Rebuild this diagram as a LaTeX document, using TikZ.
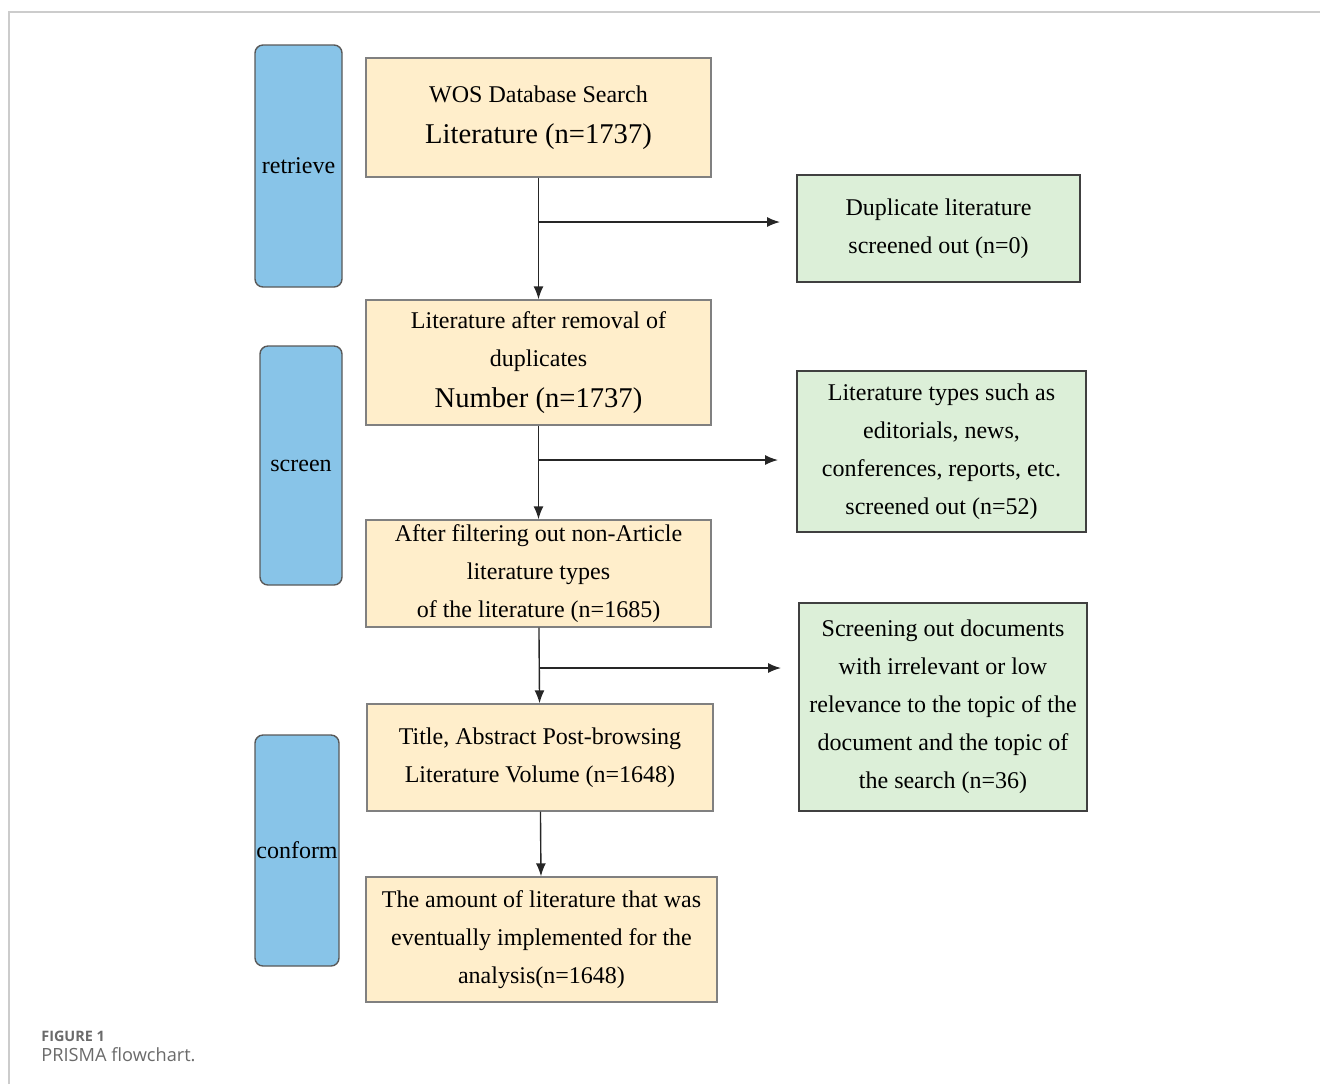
\documentclass[tikz,border=0pt]{standalone}
\usepackage{fontspec}
\setmainfont{Liberation Serif}
\newfontfamily\capfont{Open Sans}
\usetikzlibrary{arrows.meta}
\definecolor{stagefill}{HTML}{88C4E8}
\definecolor{stepfill}{HTML}{FFEECB}
\definecolor{outfill}{HTML}{DCEFD8}
\definecolor{capgray}{HTML}{6A6A6A}
\begin{document}
\begin{tikzpicture}[x=0.5pt,y=-0.5pt,>={Latex[length=6.5pt,width=5pt]},
    stage/.style={draw=black!65,fill=stagefill,rounded corners=4pt,line width=0.7pt,inner sep=0pt},
    stepbox/.style={draw=black!50,fill=stepfill,line width=0.7pt,align=center,inner sep=0pt},
    outbox/.style={draw=black!75,fill=outfill,line width=0.7pt,align=center,inner sep=0pt},
    every node/.append style={font=\fontsize{12}{19}\selectfont}]
\useasboundingbox (0,0) rectangle (1320,1084);
% frame of the figure
\draw[black!20,line width=0.6pt](9,1084)--(9,12)--(1320,12);
% stages
\node[stage,minimum width=43.5pt,minimum height=121pt](retr) at (298.5,166){retrieve};
\node[stage,minimum width=41pt,minimum height=119.5pt](scr) at (301,465.5){screen};
\node[stage,minimum width=42pt,minimum height=115.5pt](conf) at (297,850.5){conform};
% main steps
\node[stepbox,minimum width=172.5pt,minimum height=59.5pt](wos) at (538.5,117.5)
    {WOS Database Search\\[1.5pt]{\fontsize{14.3}{19}\selectfont Literature (n=1737)}};
\node[stepbox,minimum width=172.5pt,minimum height=62.5pt](dedup) at (538.5,362.5)
    {Literature after removal of\\duplicates\\[1.5pt]{\fontsize{14.3}{19}\selectfont Number (n=1737)}};
\node[stepbox,minimum width=172.5pt,minimum height=53.5pt](filt) at (538.5,573.5)
    {After filtering out non-Article\\literature types\\of the literature (n=1685)};
\node[stepbox,minimum width=173pt,minimum height=53.5pt](browse) at (540,757.5)
    {Title, Abstract Post-browsing\\Literature Volume (n=1648)};
\node[stepbox,minimum width=175.5pt,minimum height=62.5pt](final) at (541.5,939.5)
    {The amount of literature that was\\eventually implemented for the\\analysis(n=1648)};
% excluded
\node[outbox,minimum width=141.5pt,minimum height=53.5pt](dup) at (938.5,228.5)
    {Duplicate literature\\screened out (n=0)};
\node[outbox,minimum width=144.5pt,minimum height=80.5pt](types) at (941.5,451.5)
    {Literature types such as\\editorials, news,\\conferences, reports, etc.\\screened out (n=52)};
\node[outbox,minimum width=144pt,minimum height=104pt](irrel) at (943,707)
    {Screening out documents\\with irrelevant or low\\relevance to the topic of the\\document and the topic of\\the search (n=36)};
% branch points
\coordinate (b1) at (539,222);\coordinate (t1) at (780,222);
\coordinate (b2) at (539,460);\coordinate (t2) at (778,460);
\coordinate (b3) at (540,668);\coordinate (t3) at (781,668);
\begin{scope}[line width=0.7pt,black!85]
\draw[->](wos)--(dedup);
\draw[->](dedup)--(filt);
\draw[->](filt)--(browse);
\draw[->](browse)--(final);
\draw[->](b1)--(t1);
\draw[->](b2)--(t2);
\draw[->](b3)--(t3);
\end{scope}
% caption
\node[anchor=base west,inner sep=0pt,text=capgray,font=\capfont\bfseries\fontsize{7.2}{9}\selectfont] (fig) at (41,1041){FIGURE 1};
\node[anchor=base west,inner sep=0pt,text=capgray,font=\capfont\fontsize{9.1}{11}\selectfont] (cap) at (41,1061){PRISMA flowchart.};
\end{tikzpicture}
\end{document}
